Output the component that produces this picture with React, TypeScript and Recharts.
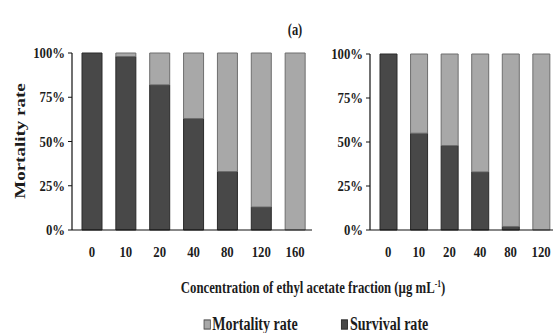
import React from 'react';
import { BarChart, Bar, XAxis, YAxis } from 'recharts';

const categories = ['0', '10', '20', '40', '80', '120', '160'];
const leftSurvival = [100, 98, 82, 63, 33, 13, 0];
const leftMortality = [0, 2, 18, 37, 67, 87, 100];
const rightSurvival = [100, 55, 48, 33, 2, 0, 0];
const rightMortality = [0, 45, 52, 67, 98, 100, 100];
const yTicks = [0, 25, 50, 75, 100];

const FONT = '"Liberation Serif", "Times New Roman", serif';
const DARK = '#484848';
const LIGHT = '#a8a8a8';
const INK = '#1c1c1c';
// the source figure looks squeezed horizontally
const SQUEEZE = 0.78;

const leftData = categories.map((c, i) => ({ conc: c, survival: leftSurvival[i], mortality: leftMortality[i] }));
const rightData = categories.map((c, i) => ({ conc: c, survival: rightSurvival[i], mortality: rightMortality[i] }));

function YTick({ x, y, payload }: any) {
  return (
    <g transform={`translate(${x},${y}) scale(0.85,1)`}>
      <text textAnchor="end" dy={5} fontSize={15} fontWeight="bold" fontFamily={FONT} fill={INK}>
        {payload.value}%
      </text>
    </g>
  );
}

function XTick({ x, y, payload }: any) {
  return (
    <g transform={`translate(${x},${y}) scale(0.85,1)`}>
      <text textAnchor="middle" dy={27} fontSize={15} fontWeight="bold" fontFamily={FONT} fill={INK}>
        {payload.value}
      </text>
    </g>
  );
}

function Panel({ data, left, width, margin, barSize }: any) {
  return (
    <div style={{ position: 'absolute', left, top: 0 }}>
      <BarChart width={width} height={270} data={data} margin={margin} barSize={barSize}>
        <XAxis
          dataKey="conc"
          height={40}
          tick={<XTick />}
          tickLine={false}
          tickSize={0}
          tickMargin={0}
          interval={0}
          padding={{ left: 3, right: 0 }}
          axisLine={{ stroke: '#111', strokeWidth: 1.2 }}
        />
        <YAxis
          width={62}
          domain={[0, 100]}
          ticks={yTicks}
          tick={<YTick />}
          tickSize={4}
          tickMargin={3}
          tickLine={{ stroke: '#111' }}
          axisLine={{ stroke: '#111', strokeWidth: 1.2 }}
        />
        <Bar dataKey="survival" stackId="a" fill={DARK} stroke="#2a2a2a" strokeWidth={1} isAnimationActive={false} />
        <Bar dataKey="mortality" stackId="a" fill={LIGHT} stroke="#6e6e6e" strokeWidth={1} isAnimationActive={false} />
      </BarChart>
    </div>
  );
}

export default function App() {
  const textStyle: React.CSSProperties = {
    position: 'absolute',
    whiteSpace: 'nowrap',
    fontFamily: FONT,
    fontWeight: 'bold',
    color: INK,
  };
  return (
    <div style={{ position: 'fixed', left: 0, top: 0, width: 553, height: 333, overflow: 'hidden', background: '#fff' }}>
      <Panel data={leftData} left={0} width={320} margin={{ top: 53, right: 8, left: 10, bottom: 0 }} barSize={20} />
      <Panel data={rightData} left={300} width={300} margin={{ top: 54, right: 13, left: 8, bottom: 0 }} barSize={17} />

      <div style={{ ...textStyle, left: 295, top: 30, fontSize: 16, transform: `translate(-50%,-50%) scaleX(${SQUEEZE})` }}>(a)</div>

      <div style={{ ...textStyle, left: 20, top: 141, fontSize: 19, transform: `translate(-50%,-50%) rotate(-90deg) scaleY(${SQUEEZE})` }}>
        Mortality rate
      </div>

      <div style={{ ...textStyle, left: 313, top: 288, fontSize: 17, transform: `translate(-50%,-50%) scaleX(0.75)` }}>
        Concentration of ethyl acetate fraction (µg mL<sup style={{ fontSize: 10 }}>-1</sup>)
      </div>

      <div style={{ position: 'absolute', left: 316, top: 324, transform: `translate(-50%,-50%) scaleX(${SQUEEZE})`, display: 'flex', alignItems: 'center', whiteSpace: 'nowrap', fontFamily: FONT, fontWeight: 'bold', fontSize: 18, color: INK }}>
        <span style={{ display: 'inline-block', width: 9, height: 10, background: LIGHT, border: '1px solid #555', marginRight: 2, boxSizing: 'border-box' }} />
        <span>Mortality rate</span>
        <span style={{ display: 'inline-block', width: 56 }} />
        <span style={{ display: 'inline-block', width: 9, height: 10, background: DARK, border: '1px solid #333', marginRight: 2, boxSizing: 'border-box' }} />
        <span>Survival rate</span>
      </div>
    </div>
  );
}
